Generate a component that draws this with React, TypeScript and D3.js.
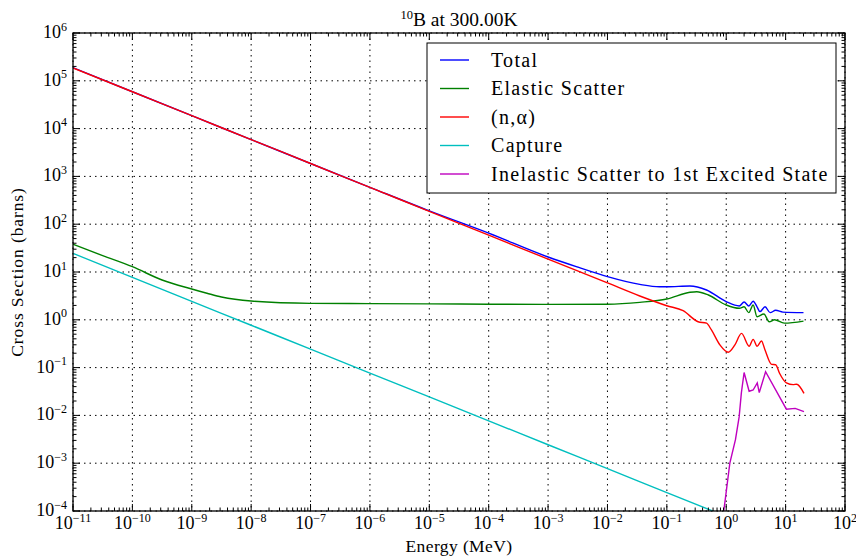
import React, { useEffect, useRef } from 'react';
import * as d3 from 'd3';

// cross sections (energy in MeV, xs in barns)
const totalE = [1e-11, 1e-10, 1e-9, 1e-8, 1e-7, 1e-6, 1e-5, 1e-4, 1e-3, 3.2e-3, 1e-2, 0.035, 0.075, 0.1, 0.245, 0.466, 1.0, 1.66, 2.0, 2.4, 2.84, 3.3, 3.7, 4.5, 5.5, 6.8, 9, 20];
const totalXS = [1.88e5, 5.9e4, 1.86e4, 5.9e3, 1.86e3, 592, 190, 65, 20.6, 12.6, 8.0, 5.5, 4.9, 4.9, 5.1, 4.2, 2.4, 1.95, 2.35, 1.95, 2.45, 1.87, 1.48, 1.87, 1.41, 1.58, 1.45, 1.41];

const elasticE = [1e-11, 3.16e-11, 1e-10, 3.16e-10, 1e-9, 1.8e-9, 3.16e-9, 1e-8, 1e-7, 1e-6, 1e-5, 1e-4, 1e-3, 1e-2, 0.035, 0.1, 0.245, 0.32, 0.5, 1.0, 1.66, 2.0, 2.4, 2.84, 3.3, 4.3, 5.3, 6.5, 9.5, 20];
const elasticXS = [38, 22, 12.9, 6.8, 4.4, 3.6, 3.0, 2.47, 2.21, 2.18, 2.15, 2.12, 2.1, 2.12, 2.32, 2.72, 3.76, 3.87, 3.3, 2.04, 1.74, 1.87, 1.41, 2.04, 1.16, 1.32, 0.91, 1.0, 0.85, 0.94];

const alphaE = [1e-11, 1e-10, 1e-9, 1e-8, 1e-7, 1e-6, 1e-5, 1e-4, 1e-3, 1e-2, 0.035, 0.1, 0.188, 0.336, 0.466, 0.56, 0.78, 1.08, 1.4, 1.81, 2.43, 2.84, 3.31, 3.92, 4.47, 5.8, 6.8, 7.9, 10.3, 13.4, 15.3, 20.4];
const alphaXS = [1.86e5, 5.9e4, 1.86e4, 5.9e3, 1.86e3, 590, 186, 59, 18.6, 5.9, 3.15, 1.97, 1.55, 0.91, 0.85, 0.62, 0.30, 0.21, 0.30, 0.52, 0.28, 0.39, 0.28, 0.36, 0.24, 0.117, 0.115, 0.076, 0.048, 0.044, 0.045, 0.029];

const captureE = [1e-11, 1e-10, 1e-9, 1e-8, 1e-7, 1e-6, 1e-5, 1e-4, 1e-3, 1e-2, 1e-1, 1];
const captureXS = [24.5, 7.7, 2.43, 0.77, 0.243, 0.077, 0.0243, 0.0077, 0.00243, 7.7e-4, 2.43e-4, 7.7e-5];

const inelasticE = [0.88, 0.91, 1.15, 1.43, 1.65, 1.8, 2.0, 2.43, 2.84, 3.33, 3.6, 4.6, 10.3, 14.5, 20.4];
const inelasticXS = [5e-5, 1e-4, 1e-3, 3.1e-3, 9.3e-3, 0.03, 0.079, 0.032, 0.034, 0.048, 0.03, 0.082, 0.0135, 0.014, 0.012];

const seriesNames = ['Total', 'Elastic Scatter', '(n,α)', 'Capture', 'Inelastic Scatter to 1st Excited State'];
const seriesColors = ['#0000ff', '#008000', '#ff0000', '#00bfbf', '#bf00bf'];

const xExponents = [-11, -10, -9, -8, -7, -6, -5, -4, -3, -2, -1, 0, 1, 2];
const yExponents = [-4, -3, -2, -1, 0, 1, 2, 3, 4, 5, 6];

const W = 856, H = 557;
const FONT = '"Liberation Serif", serif';

export default function App() {
  const ref = useRef<SVGSVGElement | null>(null);

  useEffect(() => {
    const svg = d3.select(ref.current);
    svg.selectAll('*').remove();

    const left = 73, right = 845, top = 33, bottom = 511;
    const x = d3.scaleLog().domain([1e-11, 1e2]).range([left, right]);
    const y = d3.scaleLog().domain([1e-4, 1e6]).range([bottom, top]);

    svg.append('rect').attr('width', W).attr('height', H).attr('fill', '#fff');

    svg.append('defs').append('clipPath').attr('id', 'plot-clip')
      .append('rect').attr('x', left).attr('y', top)
      .attr('width', right - left).attr('height', bottom - top);

    // grid
    const grid = svg.append('g').attr('stroke', '#000').attr('stroke-width', 1)
      .attr('stroke-dasharray', '1.5 4');
    xExponents.forEach(e => {
      const px = x(Math.pow(10, e));
      grid.append('line').attr('x1', px).attr('x2', px).attr('y1', top).attr('y2', bottom);
    });
    yExponents.forEach(e => {
      const py = y(Math.pow(10, e));
      grid.append('line').attr('x1', left).attr('x2', right).attr('y1', py).attr('y2', py);
    });

    // curves
    const series = [
      [totalE, totalXS],
      [elasticE, elasticXS],
      [alphaE, alphaXS],
      [captureE, captureXS],
      [inelasticE, inelasticXS],
    ];
    const lines = svg.append('g').attr('clip-path', 'url(#plot-clip)');
    series.forEach(([es, vs], i) => {
      const pts = es.map((e, j) => [e, vs[j]] as [number, number]);
      const line = d3.line<[number, number]>()
        .x(d => x(d[0]))
        .y(d => y(d[1]))
        .curve(i === 4 ? d3.curveLinear : d3.curveMonotoneX);
      lines.append('path')
        .attr('d', line(pts))
        .attr('fill', 'none')
        .attr('stroke', seriesColors[i])
        .attr('stroke-width', 1.4);
    });

    // frame + ticks on all sides
    const ticks = svg.append('g').attr('stroke', '#000').attr('stroke-width', 1);
    const minorX: number[] = [];
    for (let e = -11; e < 2; e++) for (let k = 2; k < 10; k++) minorX.push(k * Math.pow(10, e));
    const minorY: number[] = [];
    for (let e = -4; e < 6; e++) for (let k = 2; k < 10; k++) minorY.push(k * Math.pow(10, e));

    xExponents.forEach(e => {
      const px = x(Math.pow(10, e));
      ticks.append('line').attr('x1', px).attr('x2', px).attr('y1', bottom).attr('y2', bottom - 7);
      ticks.append('line').attr('x1', px).attr('x2', px).attr('y1', top).attr('y2', top + 7);
    });
    minorX.forEach(v => {
      const px = x(v);
      ticks.append('line').attr('x1', px).attr('x2', px).attr('y1', bottom).attr('y2', bottom - 3.5);
      ticks.append('line').attr('x1', px).attr('x2', px).attr('y1', top).attr('y2', top + 3.5);
    });
    yExponents.forEach(e => {
      const py = y(Math.pow(10, e));
      ticks.append('line').attr('x1', left).attr('x2', left + 7).attr('y1', py).attr('y2', py);
      ticks.append('line').attr('x1', right).attr('x2', right - 7).attr('y1', py).attr('y2', py);
    });
    minorY.forEach(v => {
      const py = y(v);
      ticks.append('line').attr('x1', left).attr('x2', left + 3.5).attr('y1', py).attr('y2', py);
      ticks.append('line').attr('x1', right).attr('x2', right - 3.5).attr('y1', py).attr('y2', py);
    });

    svg.append('rect').attr('x', left).attr('y', top)
      .attr('width', right - left).attr('height', bottom - top)
      .attr('fill', 'none').attr('stroke', '#000').attr('stroke-width', 1.3);

    const fmt = (e: number) => (e < 0 ? '\u2212' + Math.abs(e) : String(e));

    // x tick labels
    xExponents.forEach(e => {
      const t = svg.append('text')
        .attr('x', x(Math.pow(10, e))).attr('y', 529)
        .attr('text-anchor', 'middle')
        .attr('font-family', FONT).attr('font-size', 18).attr('fill', '#000');
      t.append('tspan').text('10');
      t.append('tspan').attr('dy', -7.5).attr('font-size', 12).text(fmt(e));
    });

    // y tick labels
    yExponents.forEach(e => {
      const t = svg.append('text')
        .attr('x', 67).attr('y', y(Math.pow(10, e)) + 5)
        .attr('text-anchor', 'end')
        .attr('font-family', FONT).attr('font-size', 18).attr('fill', '#000');
      t.append('tspan').text('10');
      t.append('tspan').attr('dy', -7.5).attr('font-size', 12).text(fmt(e));
    });

    // title
    const title = svg.append('text')
      .attr('x', 459).attr('y', 26).attr('text-anchor', 'middle')
      .attr('font-family', FONT).attr('font-size', 19.5).attr('fill', '#000');
    title.append('tspan').attr('font-size', 12.5).attr('dy', -7.5).text('10');
    title.append('tspan').attr('dy', 7.5).text('B at 300.00K');

    svg.append('text')
      .attr('x', 459).attr('y', 552).attr('text-anchor', 'middle')
      .attr('font-family', FONT).attr('font-size', 17.5).attr('fill', '#000')
      .attr('letter-spacing', 0.4)
      .text('Energy (MeV)');

    svg.append('text')
      .attr('transform', 'translate(23,272) rotate(-90)')
      .attr('text-anchor', 'middle')
      .attr('font-family', FONT).attr('font-size', 17.5).attr('fill', '#000')
      .attr('letter-spacing', 0.9)
      .text('Cross Section (barns)');

    // legend
    const lg = svg.append('g');
    lg.append('rect').attr('x', 427).attr('y', 43).attr('width', 409).attr('height', 150)
      .attr('fill', '#fff').attr('stroke', '#000').attr('stroke-width', 1);
    seriesNames.forEach((name, i) => {
      const ly = 60 + i * 28.5;
      lg.append('line').attr('x1', 440).attr('x2', 469).attr('y1', ly).attr('y2', ly)
        .attr('stroke', seriesColors[i]).attr('stroke-width', 1.4);
      lg.append('text').attr('x', 491).attr('y', ly + 6.5)
        .attr('font-family', FONT).attr('font-size', 20).attr('fill', '#000')
        .attr('letter-spacing', 1.3)
        .text(name);
    });
  }, []);

  return (
    <svg ref={ref} width={W} height={H}
      style={{ position: 'absolute', left: 0, top: 0, display: 'block' }} />
  );
}
